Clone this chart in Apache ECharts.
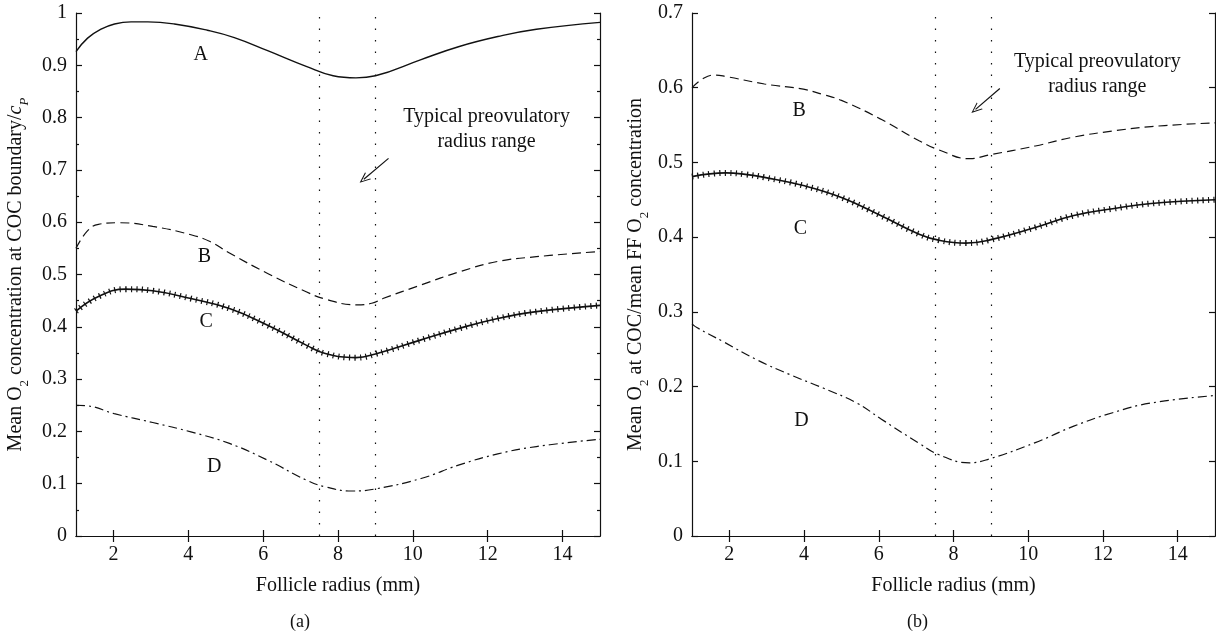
<!DOCTYPE html>
<html><head><meta charset="utf-8">
<script src="https://cdn.jsdelivr.net/npm/echarts@6/dist/echarts.min.js"></script>
<style>html,body{margin:0;padding:0;background:#fff}#c{width:1216px;height:638px}</style>
</head><body><div id="c"></div>
<script>
// ---- data ----
const xTicks = [2, 4, 6, 8, 10, 12, 14];
const rangeLines = [7.5, 9];
// panel (a)
const aA = [[1,0.926],[1.31,0.952],[1.67,0.969],[2.03,0.979],[2.47,0.983],[2.92,0.983],[3.63,0.979],[4.51,0.967],[5.23,0.953],[6.12,0.928],[7.15,0.898],[7.87,0.880],[8.48,0.876],[9,0.880],[10.22,0.911],[11.24,0.936],[12.27,0.955],[13.3,0.969],[15,0.982]];
const aB = [[1,0.55],[1.3,0.583],[1.6,0.596],[2.13,0.599],[3.05,0.592],[4.07,0.576],[4.58,0.563],[5.1,0.541],[6.12,0.502],[7.15,0.467],[7.66,0.453],[8.48,0.442],[8.9,0.445],[9.2,0.454],[10.22,0.48],[11.24,0.505],[12.27,0.525],[13.3,0.534],[15,0.544]];
const aC = [[1,0.43],[1.6,0.458],[2.33,0.472],[3.05,0.469],[4.07,0.454],[5.1,0.435],[6.12,0.403],[7.15,0.365],[7.66,0.349],[8.48,0.341],[9,0.348],[10.22,0.375],[11.24,0.397],[12.27,0.416],[13.3,0.429],[15,0.441]];
const aD = [[1,0.25],[1.3,0.249],[2.02,0.234],[3.05,0.217],[4.07,0.199],[5.1,0.177],[6.12,0.145],[7.15,0.107],[7.66,0.094],[8.38,0.086],[9,0.09],[10.22,0.11],[11.24,0.136],[12.27,0.157],[13.3,0.171],[15,0.185]];
const aLabels = [['A',4.33,0.92],['B',4.43,0.534],['C',4.48,0.41],['D',4.69,0.132]];
const aNote = [11.97, 0.777];
const aArrow = [[9.35,0.722],[8.69,0.682]];
// panel (b)
const bB = [[1,0.60],[1.29,0.612],[1.6,0.617],[1.91,0.615],[2.94,0.605],[3.98,0.598],[4.5,0.591],[5,0.583],[6.05,0.558],[7.08,0.529],[7.6,0.517],[8.43,0.505],[8.95,0.51],[10.19,0.522],[11.22,0.534],[12.26,0.542],[13.29,0.548],[15,0.553]];
const bC = [[1,0.481],[1.91,0.486],[2.43,0.484],[2.94,0.480],[3.98,0.469],[5,0.453],[6.05,0.429],[7.08,0.404],[7.6,0.396],[8.33,0.392],[8.95,0.396],[10.19,0.413],[11.22,0.429],[12.26,0.438],[13.29,0.445],[15,0.45]];
const bD = [[1,0.284],[1.13,0.279],[1.84,0.26],[2.73,0.236],[3.62,0.216],[4.51,0.198],[5.41,0.178],[6.05,0.157],[7.08,0.124],[7.6,0.109],[8.43,0.098],[8.95,0.103],[10.19,0.125],[11.22,0.147],[12.26,0.165],[13.29,0.178],[15,0.188]];
const bLabels = [['B',3.87,0.569],['C',3.9,0.411],['D',3.93,0.154]];
const bNote = [11.85, 0.618];
const bArrow = [[9.24,0.599],[8.59,0.571]];
const noteText = 'Typical preovulatory\nradius range';

// ---- styling ----
const FONT = '"Liberation Serif", "DejaVu Serif", serif';
const INK = '#111';
const axLine = {show:true, lineStyle:{color:INK, width:1.2}};

function xAx(grid, pos, showLabel){
  return {type:'value', gridIndex:grid, position:pos, min:1, max:15,
    axisLine:axLine, splitLine:{show:false},
    axisTick:{show:true, inside:true, length:6, customValues:xTicks, lineStyle:{color:INK, width:1.2}},
    axisLabel:{show:showLabel, customValues:xTicks, margin:9, color:INK, fontFamily:FONT, fontSize:20},
    name: showLabel ? 'Follicle radius (mm)' : '', nameLocation:'middle', nameGap:40,
    nameTextStyle:{color:INK, fontFamily:FONT, fontSize:20}};
}
function yAx(grid, pos, max, showLabel, minor, nameRich, gap){
  return {type:'value', gridIndex:grid, position:pos, min:0, max:max, interval:0.1,
    axisLine:axLine, splitLine:{show:false},
    axisTick:{show:true, inside:true, length:6, lineStyle:{color:INK, width:1.2}},
    minorTick:{show:minor, splitNumber:2, length:3, lineStyle:{color:INK, width:1.2}},
    minorSplitLine:{show:false},
    axisLabel:{show:showLabel, margin:9, color:INK, fontFamily:FONT, fontSize:20,
      formatter:v => String(+v.toFixed(2))},
    name: nameRich || '', nameLocation:'middle', nameGap:gap || 50, nameRotate:90,
    nameTextStyle:{color:INK, fontFamily:FONT, fontSize:20,
      rich:{t:{fontFamily:FONT, fontSize:20, color:INK, lineHeight:24},
            s:{fontFamily:FONT, fontSize:13, color:INK, lineHeight:24, verticalAlign:'bottom', padding:[0,0,-3,0]},
            i:{fontFamily:FONT, fontSize:20, fontStyle:'italic', color:INK, lineHeight:24},
            si:{fontFamily:FONT, fontSize:13, fontStyle:'italic', color:INK, lineHeight:24, verticalAlign:'bottom', padding:[0,0,-3,0]}}}};
}

function curve(data, xi, dash, width){
  return {type:'line', xAxisIndex:xi, yAxisIndex:xi, data:data, smooth:0.45, showSymbol:false, symbol:'none',
    lineStyle:{color:INK, width:width||1.3, type:dash||'solid'}, silent:true, z:3};
}
function crossMarks(data, xi){
  return {type:'line', xAxisIndex:xi, yAxisIndex:xi, data:data, smooth:0.45, showSymbol:false, symbol:'none',
    lineStyle:{color:INK, width:6, type:[1.2,4.3], cap:'butt'}, silent:true, z:4};
}
function vlines(xi){
  return {type:'line', xAxisIndex:xi, yAxisIndex:xi, data:[], silent:true,
    markLine:{silent:true, symbol:['none','none'], label:{show:false},
      lineStyle:{color:INK, width:1.2, type:[1.5,10]},
      data: rangeLines.map(v => ({xAxis:v}))}};
}
function arrow(pts, xi){
  return {type:'line', xAxisIndex:xi, yAxisIndex:xi, data:[], silent:true,
    markLine:{silent:true, symbol:['none','path://M0,0 L-6,12 L-4.6,12 L0,2.8 L4.6,12 L6,12 Z'], symbolSize:[9,11],
      label:{show:false}, lineStyle:{color:INK, width:1.2, type:'solid'},
      data:[[{coord:pts[0]},{coord:pts[1]}]]}};
}
function textMarks(labels, note, xi){
  const d = labels.map(l => ({value:[l[1], l[2]], name:l[0]}));
  d.push({value:note, name:noteText});
  return {type:'scatter', xAxisIndex:xi, yAxisIndex:xi, data:d, symbolSize:0, silent:true,
    itemStyle:{opacity:1},
    label:{show:true, position:'inside', formatter:p => p.name, color:INK, opacity:1, fontFamily:FONT, fontSize:20, lineHeight:25, align:'center'}};
}

const chart = echarts.init(document.getElementById('c'), null, {renderer:'canvas'});
chart.setOption({
  backgroundColor:'#fff',
  animation:false,
  grid:[{left:76, right:616, top:13, bottom:102},
        {left:692, right:1, top:13, bottom:102}],
  xAxis:[xAx(0,'bottom',true), xAx(0,'top',false), xAx(1,'bottom',true), xAx(1,'top',false)],
  yAxis:[yAx(0,'left',1,true,true,'{t|Mean O}{s|2}{t| concentration at COC boundary/}{i|c}{si|P}',48),
         yAx(0,'right',1,false,true),
         yAx(1,'left',0.7,true,false,'{t|Mean O}{s|2}{t| at COC/mean FF O}{s|2}{t| concentration}',44),
         yAx(1,'right',0.7,false,false)],
  series:[
    vlines(0), vlines(2),
    curve(aA,0,'solid',1.4), curve(aB,0,[9,5],1.2), curve(aC,0,'solid',1.6), crossMarks(aC,0), curve(aD,0,[9,4,2,4],1.2),
    curve(bB,2,[9,5],1.2), curve(bC,2,'solid',1.6), crossMarks(bC,2), curve(bD,2,[9,4,2,4],1.2),
    arrow(aArrow,0), arrow(bArrow,2),
    textMarks(aLabels,aNote,0), textMarks(bLabels,bNote,2)
  ],
  graphic:[
    {type:'text', left:290, top:613, style:{text:'(a)', fill:INK, font:'18px ' + FONT}},
    {type:'text', left:907, top:613, style:{text:'(b)', fill:INK, font:'18px ' + FONT}}
  ]
});
</script></body></html>
